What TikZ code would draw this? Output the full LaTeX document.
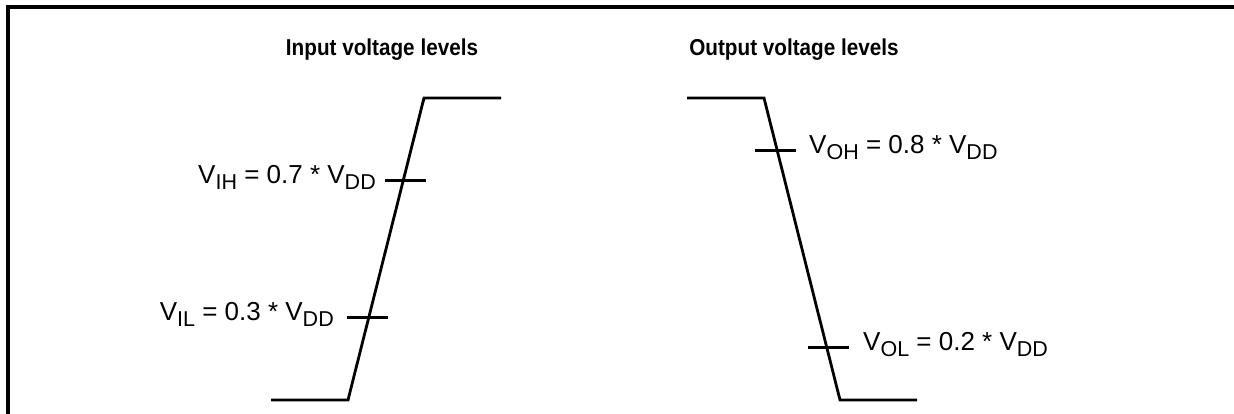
\documentclass[tikz,border=0pt]{standalone}
\usepackage{fontspec}
\setmainfont{Liberation Sans}
\usepackage{graphicx}
\newcommand{\sbs}[1]{\raisebox{-6pt}{\fontsize{21.5}{25}\selectfont #1}}
\newcommand{\ttltext}[1]{\scalebox{0.9}[1]{\bfseries\fontsize{23}{27}\selectfont #1}}
\tikzset{
  frame/.style={line width=3.2pt},
  wave/.style={line width=2.8pt, line join=miter},
  tickmark/.style={line width=3pt},
  lab/.style={inner sep=0pt, font=\fontsize{26}{31}\selectfont},
  ttl/.style={inner sep=0pt, anchor=base}
}
\begin{document}
\begin{tikzpicture}[x=1pt,y=-1pt]
\useasboundingbox (0,0) rectangle (1234,414);
\clip (0,0) rectangle (1234,414);
% frame (open to right and bottom)
\coordinate (f0) at (8,440);
\coordinate (f1) at (8,7);
\coordinate (f2) at (1260,7);
\draw[frame] (f0) -- (f1) -- (f2);
% titles
\node[ttl] (tin) at (382,56) {\ttltext{Input voltage levels}};
\node[ttl] (tout) at (794,56) {\ttltext{Output voltage levels}};
% input waveform
\coordinate (a0) at (271,400);
\coordinate (a1) at (348,400);
\coordinate (a2) at (424,98);
\coordinate (a3) at (501,98);
\draw[wave] (a0) -- (a1) -- (a2) -- (a3);
\coordinate (ih0) at (385,181); \coordinate (ih1) at (426,181);
\coordinate (il0) at (347,317); \coordinate (il1) at (388,317);
\draw[tickmark] (ih0) -- (ih1);
\draw[tickmark] (il0) -- (il1);
% output waveform
\coordinate (b0) at (687,98);
\coordinate (b1) at (764,98);
\coordinate (b2) at (840,400);
\coordinate (b3) at (917,400);
\draw[wave] (b0) -- (b1) -- (b2) -- (b3);
\coordinate (oh0) at (755,151); \coordinate (oh1) at (796,151);
\coordinate (ol0) at (808,347); \coordinate (ol1) at (849,347);
\draw[tickmark] (oh0) -- (oh1);
\draw[tickmark] (ol0) -- (ol1);
% labels
\node[lab, anchor=base east] (lih) at (376,184) {V\sbs{IH} = 0.7 * V\sbs{DD}};
\node[lab, anchor=base east] (lil) at (334,320) {V\sbs{IL} = 0.3 * V\sbs{DD}};
\node[lab, anchor=base west] (loh) at (809,154) {V\sbs{OH} = 0.8 * V\sbs{DD}};
\node[lab, anchor=base west] (lol) at (863,350) {V\sbs{OL} = 0.2 * V\sbs{DD}};
\end{tikzpicture}
\end{document}
